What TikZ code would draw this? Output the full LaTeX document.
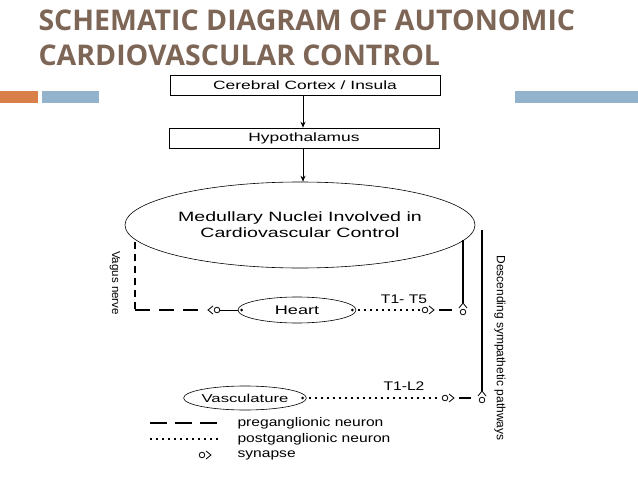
\documentclass[tikz,border=0pt]{standalone}
\usepackage{fontspec}
\setmainfont{Liberation Sans}
\newfontfamily\titlefont{Open Sans}
\newfontfamily\wide[FakeStretch=1.45]{Liberation Sans}
\newfontfamily\midw[FakeStretch=1.25]{Liberation Sans}
\usetikzlibrary{arrows.meta,shapes.geometric}
\definecolor{titlec}{HTML}{7D6656}
\definecolor{orangebar}{HTML}{D9804A}
\definecolor{bluebar}{HTML}{93B3CC}
\tikzset{
  box/.style={draw,line width=0.6pt,minimum width=270pt,minimum height=20pt,inner sep=0pt,font=\wide\fontsize{12}{13}\selectfont},
  oval/.style={draw,ellipse,line width=0.6pt,inner sep=0pt,font=\wide\fontsize{12.5}{14}\selectfont},
  arr/.style={-{Stealth[length=6pt,width=5pt]},line width=0.8pt},
  pre/.style={line width=2pt,dash pattern=on 15pt off 9pt},
  vag/.style={line width=2.5pt,dash pattern=on 7pt off 5pt},
  post/.style={line width=1.6pt,dash pattern=on 2pt off 4pt},
  solidp/.style={line width=1.4pt},
  lbl/.style={font=\midw\fontsize{12.5}{13}\selectfont},
  syn/.pic={\draw[line width=0.8pt] (0,0) circle (2.8pt); \draw[line width=0.8pt] (4pt,4pt)--(9pt,0)--(4pt,-4pt);}
}
\begin{document}
\begin{tikzpicture}[x=1pt,y=-1pt]
\useasboundingbox (0,0) rectangle (638,479);
\node[anchor=west,text=titlec,font=\titlefont\bfseries\fontsize{28.5}{30}\selectfont] (t1) at (35,20) {SCHEMATIC DIAGRAM OF AUTONOMIC};
\node[anchor=west,text=titlec,font=\titlefont\bfseries\fontsize{28.5}{30}\selectfont] (t2) at (35,55) {CARDIOVASCULAR CONTROL};
\fill[orangebar] (0,91) rectangle (38,103);
\fill[bluebar] (42,91) rectangle (99,103);
\fill[bluebar] (515,91) rectangle (638,103);
\node[box] (cc) at (305,85) {Cerebral Cortex / Insula};
\node[box] (hy) at (304,138) {Hypothalamus};
\node[oval,minimum width=350pt,minimum height=86pt,align=center,font=\wide\fontsize{13.5}{16}\selectfont] (med) at (300,225) {Medullary Nuclei Involved in\\Cardiovascular Control};
\draw[arr] (cc.south -| 303,0) -- (hy.north -| 303,0);
\draw[arr] (hy.south -| 303,0) -- (med.north -| 303,0);
\node[oval,minimum width=118pt,minimum height=26pt] (heart) at (297,310) {Heart};
\node[oval,minimum width=110pt,minimum height=24pt,font=\wide\fontsize{11.5}{13}\selectfont] (vasc) at (245,398) {Vasculature};
% vagus
\coordinate (v1) at (135,242);
\coordinate (v2) at (135,310);
\coordinate (v3) at (205,310);
\draw[vag] (v1) -- (v2);
\draw[pre] (v2) -- (v3);
\pic[rotate=180] at (217,310) {syn};
\fill (heart.west) ++(4,0) circle (1.5pt);
\draw[line width=0.8pt] (220,310) -- (heart.west);
\node[rotate=-90,font=\fontsize{11.5}{13}\selectfont] (vn) at (115,283) {Vagus nerve};
% heart sympathetic
\fill (heart.east) ++(-4,0) circle (1.5pt);
\coordinate (h2) at (420,310);
\draw[post] (heart.east) ++(2,0) -- (h2);
\pic at (425,310) {syn};
\coordinate (s1) at (463,240);
\coordinate (s1b) at (463,303);
\draw[solidp] (s1) -- (s1b);
\draw[line width=2pt] (439,310) -- (452,310);
\pic[rotate=90] at (463,312) {syn};
\node[lbl] (t15) at (404,299) {T1- T5};
% descending
\coordinate (d1) at (482,230);
\coordinate (d2) at (482,391);
\draw[solidp] (d1) -- (d2);
\pic[rotate=90] at (482,400) {syn};
\node[rotate=-90,font=\fontsize{12}{13}\selectfont] (dsp) at (500,348) {Descending sympathetic pathways};
% vasculature
\fill (vasc.east) ++(-4,0) circle (1.5pt);
\coordinate (vs2) at (440,398);
\draw[post] (vasc.east) ++(2,0) -- (vs2);
\pic at (445,398) {syn};
\draw[line width=2pt] (459,398) -- (471,398);
\node[lbl] (tl2) at (404,386) {T1-L2};
% legend
\coordinate (l1a) at (150,423); \coordinate (l1b) at (218,423);
\draw[pre,dash pattern=on 17pt off 8pt] (l1a) -- (l1b);
\node[lbl,anchor=west] (lg1) at (234,423) {preganglionic neuron};
\coordinate (l2a) at (150,439); \coordinate (l2b) at (218,439);
\draw[post] (l2a) -- (l2b);
\node[lbl,anchor=west] (lg2) at (234,439) {postganglionic neuron};
\pic at (202,455) {syn};
\node[lbl,anchor=west] (lg3) at (234,455) {synapse};
\end{tikzpicture}
\end{document}
